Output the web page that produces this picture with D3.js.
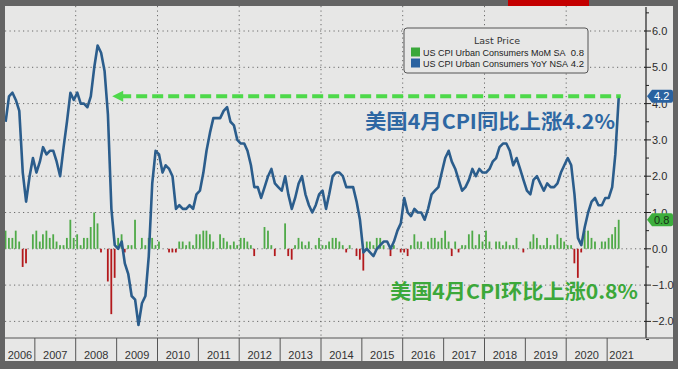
<!DOCTYPE html>
<html><head><meta charset="utf-8">
<script src="https://cdn.jsdelivr.net/npm/d3@7/dist/d3.min.js"></script>
<style>html,body{margin:0;padding:0;background:#666;}svg{display:block;}</style>
</head><body>
<svg id="c" width="678" height="369"></svg>
<script>
// ---- data ----
const startMonth = "2006-04";
const yoy = [3.5,4.2,4.3,4.1,3.8,2.1,1.3,2.0,2.5,
 2.1,2.4,2.8,2.6,2.7,2.7,2.4,2.0,2.8,3.5,4.3,4.1,
 4.3,4.0,4.0,3.9,4.2,5.0,5.6,5.4,4.9,3.7,1.1,0.1,
 0.0,0.2,-0.4,-0.7,-1.3,-1.4,-2.1,-1.5,-1.3,-0.2,1.8,2.7,
 2.6,2.1,2.3,2.2,2.0,1.1,1.2,1.1,1.1,1.2,1.1,1.5,
 1.6,2.1,2.7,3.2,3.6,3.6,3.6,3.8,3.9,3.5,3.4,3.0,
 2.9,2.9,2.7,2.3,1.7,1.7,1.4,1.7,2.0,2.2,1.8,1.7,
 1.6,2.0,1.5,1.1,1.4,1.8,2.0,1.5,1.2,1.0,1.2,1.5,
 1.6,1.1,1.5,2.0,2.1,2.1,2.0,1.7,1.7,1.7,1.3,0.8,
 -0.1,0.0,-0.1,-0.2,0.0,0.1,0.2,0.2,0.0,0.2,0.5,0.7,
 1.4,1.0,0.9,1.1,1.0,1.0,0.8,1.1,1.5,1.6,1.7,2.1,
 2.5,2.7,2.4,2.2,1.9,1.6,1.7,1.9,2.2,2.0,2.2,2.1,
 2.1,2.2,2.4,2.5,2.8,2.9,2.9,2.7,2.3,2.5,2.2,1.9,
 1.6,1.5,1.9,2.0,1.8,1.6,1.8,1.7,1.7,1.8,2.1,2.3,
 2.5,2.3,1.5,0.3,0.1,0.6,1.0,1.3,1.4,1.2,1.2,1.4,
 1.4,1.7,2.6,4.2];
const mom = [0.5,0.3,0.3,0.5,0.2,-0.5,-0.4,0.0,0.4,
 0.5,0.2,0.4,0.5,0.3,0.4,0.2,0.1,0.1,0.3,0.8,0.3,
 0.4,0.1,0.3,0.3,0.6,1.0,0.7,-0.1,0.0,-0.9,-1.8,-0.8,
 0.3,0.4,-0.1,0.1,0.1,0.8,0.0,0.3,0.1,0.3,0.3,0.1,
 0.2,0.0,0.0,-0.1,-0.1,-0.1,0.2,0.2,0.1,0.2,0.1,0.4,
 0.4,0.5,0.5,0.4,0.2,0.0,0.4,0.3,0.2,0.1,0.2,0.1,
 0.3,0.3,0.2,0.1,-0.2,0.0,0.0,0.6,0.5,0.1,-0.2,0.0,
 0.0,0.7,-0.2,-0.3,0.1,0.3,0.2,0.1,0.2,0.0,0.1,0.3,
 0.1,0.1,0.2,0.3,0.3,0.2,0.1,-0.1,0.1,0.0,-0.2,-0.3,
 -0.6,0.2,0.2,0.1,0.3,0.3,0.1,0.0,-0.2,0.1,0.0,-0.1,
 -0.1,-0.2,0.1,0.4,0.2,0.2,0.0,0.2,0.3,0.3,0.2,0.3,
 0.5,0.2,-0.2,0.2,-0.1,0.1,0.1,0.4,0.5,0.1,0.4,0.2,
 0.5,0.2,0.0,0.2,0.2,0.1,0.2,0.1,0.1,0.3,0.0,-0.1,
 0.0,0.2,0.4,0.3,0.1,0.1,0.3,0.1,0.1,0.4,0.3,0.2,
 0.1,0.1,-0.4,-0.8,-0.1,0.5,0.5,0.3,0.2,0.0,0.2,0.2,
 0.3,0.4,0.6,0.8];
const yearLabels = ["2006","2007","2008","2009","2010","2011","2012","2013","2014","2015","2016","2017","2018","2019","2020","2021"];
const yTicks = [-2,-1,0,1,2,3,4,5,6];
const legendTitle = "Last Price";
const legendItems = [
  {name:"US CPI Urban Consumers MoM SA", last:"0.8", color:"#3aa83a"},
  {name:"US CPI Urban Consumers YoY NSA", last:"4.2", color:"#2a62a0"}
];
const titleYoY = "美国4月CPI同比上涨4.2%";
const titleMoM = "美国4月CPI环比上涨0.8%";

// ---- build ----
const parse = d3.timeParse("%Y-%m");
const m0 = parse(startMonth);
const dates = yoy.map((_, i) => d3.timeDay.offset(d3.timeMonth.offset(m0, i), 14));

const svg = d3.select("#c");
const W = 678, H = 369;
const L = 5, T = 6, axisX = 646, plotB = 338, frameR = 673, frameB = 361;

svg.append("rect").attr("width", W).attr("height", H).attr("fill", "#646464");
svg.append("rect").attr("x", L).attr("y", T).attr("width", frameR - L).attr("height", frameB - T).attr("fill", "#e7e7e6");
svg.append("rect").attr("x", 508).attr("y", 0).attr("width", 81).attr("height", T).attr("fill", "#c40000");

const x = d3.scaleTime().domain([new Date(2006,0,1), new Date(2022,0,1)]).range([-6, 648]);
const y = d3.scaleLinear().domain([-2, 6]).range([321.4, 31.0]);

svg.append("defs").append("clipPath").attr("id","clip")
  .append("rect").attr("x", L).attr("y", T).attr("width", axisX - L).attr("height", plotB - T);

const g = svg.append("g").attr("clip-path","url(#clip)");

// horizontal dotted gridlines
g.selectAll(".hg").data(yTicks).join("line")
  .attr("x1", L).attr("x2", axisX).attr("y1", d => y(d)).attr("y2", d => y(d))
  .attr("stroke", "#6a6a6a").attr("stroke-width", 1).attr("stroke-dasharray", "1.2,3.3");
// vertical dotted gridlines at even years
const evenYears = d3.range(2008, 2021, 2).map(yr => new Date(yr,0,1));
g.selectAll(".vg").data(evenYears).join("line")
  .attr("x1", d => x(d)).attr("x2", d => x(d)).attr("y1", T).attr("y2", plotB)
  .attr("stroke", "#6a6a6a").attr("stroke-width", 1).attr("stroke-dasharray", "1.2,3.3");

// bars
g.selectAll(".bar").data(mom.map((v,i)=>({v, d:dates[i]}))).join("rect")
  .attr("x", d => x(d.d) - 1).attr("width", 1.8)
  .attr("y", d => Math.min(y(d.v), y(0))).attr("height", d => Math.abs(y(d.v) - y(0)))
  .attr("fill", d => d.v >= 0 ? "#4faa48" : "#b3191c");

// line
g.append("path").datum(yoy.map((v,i)=>({v, d:dates[i]})))
  .attr("fill","none").attr("stroke","#2b5d8c").attr("stroke-width",2.6)
  .attr("stroke-linejoin","round")
  .attr("d", d3.line().x(d => x(d.d)).y(d => y(d.v)));

// green dashed arrow at last YoY
const lastV = yoy[yoy.length-1];
const arrowStart = new Date(2008,10,22);
const ay = y(lastV);
const ag = svg.append("g").attr("opacity",0.9);
ag.append("line").attr("x1", x(arrowStart)+8).attr("x2", x(dates[dates.length-1])+2)
  .attr("y1", ay).attr("y2", ay)
  .attr("stroke","#3ed83a").attr("stroke-width",4).attr("stroke-dasharray","11,5");
ag.append("path")
  .attr("d", `M${x(arrowStart)},${ay} L${x(arrowStart)+11},${ay-5.5} L${x(arrowStart)+11},${ay+5.5} Z`)
  .attr("fill","#3ed83a");

// right axis
const ax = svg.append("g").attr("transform", `translate(${axisX},0)`);
ax.append("line").attr("x1",0).attr("x2",0).attr("y1",T+1).attr("y2",plotB).attr("stroke","#222").attr("stroke-width",1.2);
ax.selectAll(".mj").data(yTicks).join("line")
  .attr("x1",-2).attr("x2",5).attr("y1",d=>y(d)).attr("y2",d=>y(d)).attr("stroke","#222");
ax.selectAll(".mn").data(d3.range(-2.5, 6.6, 1)).join("line")
  .attr("x1",0).attr("x2",3).attr("y1",d=>y(d)).attr("y2",d=>y(d)).attr("stroke","#222");
ax.selectAll(".tl").data(yTicks).join("text")
  .attr("x",6).attr("y",d=>y(d)+4)
  .attr("font-family","'Liberation Sans', Arial, sans-serif").attr("font-size",11).attr("fill","#2a2a2a")
  .text(d => d3.format(".1f")(d));

// last value tags
function tag(v, fill, txtColor, label){
  const ty = y(v);
  const t = svg.append("g");
  t.append("path").attr("d",
    `M${axisX+1},${ty} L${axisX+6},${ty-6.5} L${frameR-2},${ty-6.5} Q${frameR},${ty-6.5} ${frameR},${ty-4.5} L${frameR},${ty+4.5} Q${frameR},${ty+6.5} ${frameR-2},${ty+6.5} L${axisX+6},${ty+6.5} Z`)
    .attr("fill", fill);
  t.append("text").attr("x", axisX+8).attr("y", ty+4)
    .attr("font-family","'Liberation Sans', Arial, sans-serif").attr("font-size",11).attr("fill",txtColor).text(label);
}
tag(lastV, "#2a62a0", "#ffffff", d3.format(".1f")(lastV));
tag(mom[mom.length-1], "#3cae3c", "#163016", d3.format(".1f")(mom[mom.length-1]));

// bottom axis
svg.append("line").attr("x1",L).attr("x2",frameR).attr("y1",plotB).attr("y2",plotB).attr("stroke","#555").attr("stroke-width",1);
const yearStarts = yearLabels.map(s => new Date(+s,0,1));
svg.selectAll(".ys").data(yearStarts.slice(1)).join("line")
  .attr("x1",d=>x(d)).attr("x2",d=>x(d)).attr("y1",plotB).attr("y2",frameB)
  .attr("stroke","#555").attr("stroke-width",1);
svg.selectAll(".yl").data(yearLabels).join("text")
  .attr("x",(s,i)=>{
    const a = Math.max(x(yearStarts[i]), L);
    const b = Math.min(x(new Date(+s+1,0,1)), 636);
    return (a+b)/2;
  })
  .attr("y",359).attr("text-anchor","middle")
  .attr("font-family","'Liberation Sans', Arial, sans-serif").attr("font-size",11).attr("fill","#333")
  .text(s=>s);

// legend
const lg = svg.append("g");
lg.append("rect").attr("x",404).attr("y",28).attr("width",184).attr("height",45).attr("rx",3)
  .attr("fill","#e7e7e6").attr("stroke","#555").attr("stroke-width",1);
lg.append("text").attr("x",497).attr("y",44).attr("text-anchor","middle")
  .attr("font-family","'DejaVu Sans', Verdana, sans-serif").attr("font-size",9.5).attr("fill","#333").text(legendTitle);
legendItems.forEach((it,i)=>{
  const yy = 52 + i*11;
  lg.append("rect").attr("x",411).attr("y",yy-4.5).attr("width",9).attr("height",9).attr("fill",it.color);
  lg.append("text").attr("x",423).attr("y",yy+3.5)
    .attr("font-family","'Liberation Sans', Arial, sans-serif").attr("font-size",9).attr("fill","#222")
    .text(it.name);
  lg.append("text").attr("x",584).attr("y",yy+3.5).attr("text-anchor","end")
    .attr("font-family","'Liberation Sans', Arial, sans-serif").attr("font-size",9.5).attr("fill","#222")
    .text(it.last);
});

// annotations
svg.append("text").attr("x",365).attr("y",129)
  .attr("font-family","'Noto Sans CJK SC', sans-serif").attr("font-weight",700).attr("font-size",20)
  .attr("fill","#2e67a3").attr("textLength",250).attr("lengthAdjust","spacingAndGlyphs").text(titleYoY);
svg.append("text").attr("x",390).attr("y",299)
  .attr("font-family","'Noto Sans CJK SC', sans-serif").attr("font-weight",700).attr("font-size",20)
  .attr("fill","#3ca83a").attr("textLength",248).attr("lengthAdjust","spacingAndGlyphs").text(titleMoM);
</script>
</body></html>
